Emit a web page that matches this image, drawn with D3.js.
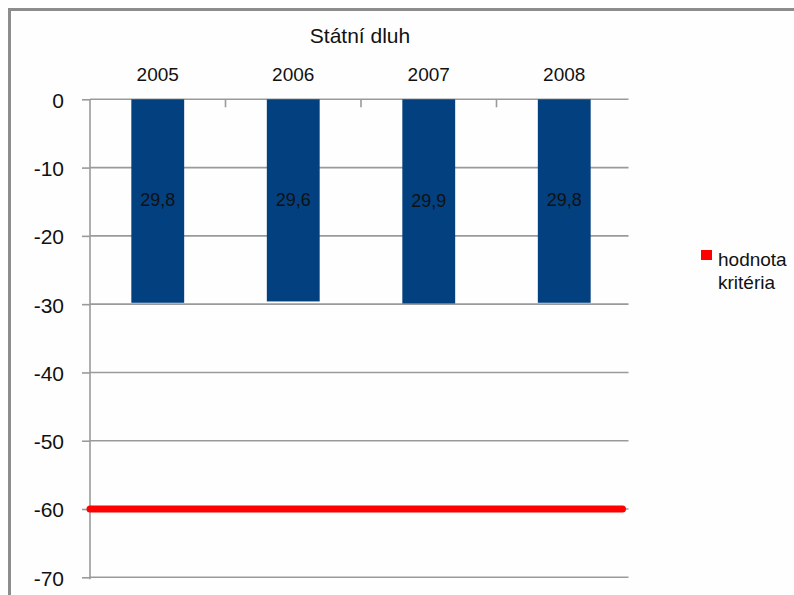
<!DOCTYPE html>
<html>
<head>
<meta charset="utf-8">
<script src="https://cdn.jsdelivr.net/npm/d3@7"></script>
<style>
  html, body { margin: 0; padding: 0; background: #fefefe; }
  svg { display: block; font-family: "Liberation Sans", Arial, sans-serif; }
</style>
</head>
<body>
<svg id="chart" width="794" height="595"></svg>
<script>
// Státní dluh (% HDP) – sloupce dolů od nuly, červená čára = hodnota kritéria
const years = ["2005", "2006", "2007", "2008"];
const debt = [-29.8, -29.6, -29.9, -29.8];
const debtLabels = ["29,8", "29,6", "29,9", "29,8"];
const criterion = [-60, -60, -60, -60];
const yTicks = [0, -10, -20, -30, -40, -50, -60, -70];
const title = "Státní dluh";
const legendLines = ["hodnota", "kritéria"];

const svg = d3.select("#chart");
const W = 794, H = 595;

// outer frame (left and top edges visible)
svg.append("rect")
  .attr("x", 9.5).attr("y", 9.5)
  .attr("width", W + 20).attr("height", H + 20)
  .attr("fill", "#fefefe")
  .attr("stroke", "#8c8c8c").attr("stroke-width", 3);

const plot = { left: 90, right: 632, top: 99.3, bottom: 577.3, gridEnd: 628.5 };

const x = d3.scaleBand()
  .domain(years)
  .range([plot.left, plot.right])
  .paddingInner(0.61)
  .paddingOuter(0.305);

const y = d3.scaleLinear()
  .domain([0, -70])
  .range([plot.top, plot.bottom]);

// horizontal gridlines + left axis
const yAxis = d3.axisLeft(y)
  .tickValues(yTicks)
  .tickSize(plot.left - 82)
  .tickPadding(6)
  .tickFormat(d => d3.format("d")(d).replace("−", "-"));

const gy = svg.append("g")
  .attr("transform", `translate(${plot.left},0)`);

gy.selectAll("line.grid")
  .data(yTicks)
  .join("line")
  .attr("class", "grid")
  .attr("x1", 0).attr("x2", plot.gridEnd - plot.left)
  .attr("y1", d => y(d)).attr("y2", d => y(d))
  .attr("stroke", "#9a9a9a").attr("stroke-width", 1.6);

gy.call(yAxis);
gy.select(".domain")
  .attr("d", `M0,${plot.top}V${plot.bottom + 2}`)
  .attr("stroke", "#9a9a9a").attr("stroke-width", 1.6);
gy.selectAll(".tick line").attr("stroke", "#9a9a9a").attr("stroke-width", 1.6);
gy.selectAll(".tick text")
  .attr("font-size", 21)
  .attr("fill", "#111")
  .attr("x", -26)
  .attr("dy", "0.38em");

// category axis on top (ticks between categories, pointing into the plot)
const boundaries = years.slice(1).map(d => x(d) - x.step() * x.paddingInner() / 2);
svg.append("g").selectAll("line")
  .data(boundaries)
  .join("line")
  .attr("x1", d => d).attr("x2", d => d)
  .attr("y1", plot.top).attr("y2", plot.top + 8)
  .attr("stroke", "#9a9a9a").attr("stroke-width", 1.6);

svg.append("g").selectAll("text")
  .data(years)
  .join("text")
  .attr("x", d => x(d) + x.bandwidth() / 2)
  .attr("y", 81)
  .attr("text-anchor", "middle")
  .attr("font-size", 19)
  .attr("fill", "#111")
  .text(d => d);

// bars
svg.append("g").selectAll("rect")
  .data(years)
  .join("rect")
  .attr("x", d => x(d))
  .attr("y", y(0))
  .attr("width", x.bandwidth())
  .attr("height", (d, i) => y(debt[i]) - y(0))
  .attr("fill", "#02407f");

// value labels inside bars
svg.append("g").selectAll("text")
  .data(years)
  .join("text")
  .attr("x", d => x(d) + x.bandwidth() / 2)
  .attr("y", (d, i) => y(debt[i] / 2) - 1)
  .attr("dy", "0.35em")
  .attr("text-anchor", "middle")
  .attr("font-size", 18)
  .attr("fill", "#111")
  .text((d, i) => debtLabels[i]);

// criterion line
svg.append("line")
  .attr("x1", plot.left)
  .attr("x2", plot.gridEnd - 6)
  .attr("y1", y(criterion[0]))
  .attr("y2", y(criterion[criterion.length - 1]))
  .attr("stroke", "#ff0000")
  .attr("stroke-width", 7)
  .attr("stroke-linecap", "round");

// legend
const lg = svg.append("g").attr("transform", "translate(701,250)");
lg.append("rect")
  .attr("width", 11).attr("height", 10)
  .attr("fill", "#ff0000");
lg.selectAll("text")
  .data(legendLines)
  .join("text")
  .attr("x", 17)
  .attr("y", (d, i) => 16 + i * 23)
  .attr("font-size", 19)
  .attr("fill", "#111")
  .text(d => d);

// title
svg.append("text")
  .attr("x", 360)
  .attr("y", 43)
  .attr("text-anchor", "middle")
  .attr("font-size", 21)
  .attr("fill", "#111")
  .text(title);
</script>
</body>
</html>
